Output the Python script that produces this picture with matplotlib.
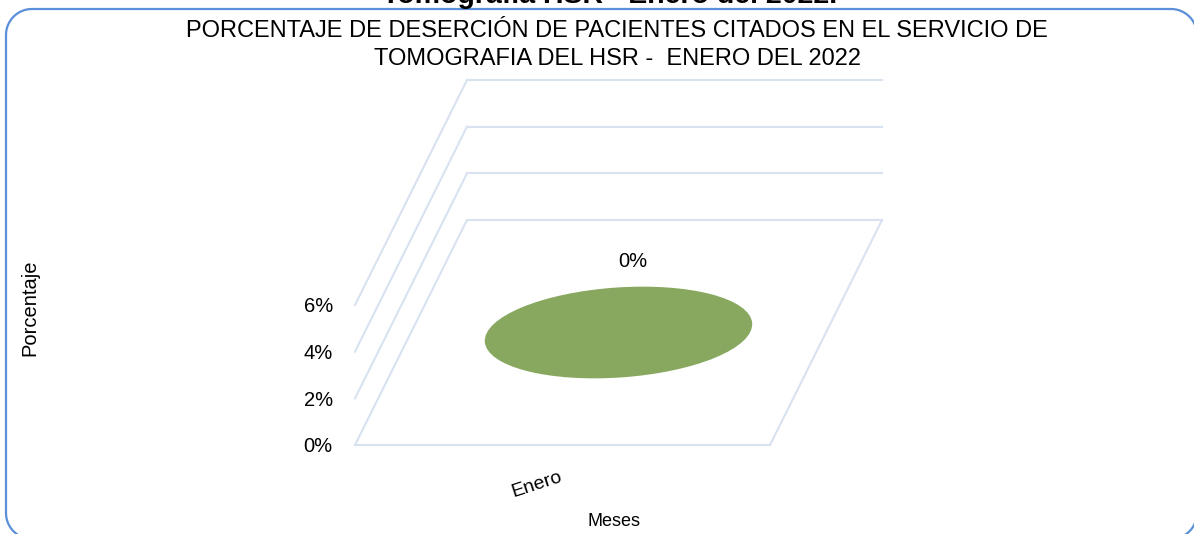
import numpy as np
import matplotlib
matplotlib.use('Agg')
import matplotlib.pyplot as plt
from matplotlib.patches import Ellipse, PathPatch
from matplotlib.path import Path
from matplotlib.lines import Line2D
import matplotlib.transforms as mtransforms

# ---------------- data ----------------
categories = ['Enero']
values = [0.0]
data_labels = ['0%']
y_ticks = [0.0, 0.02, 0.04, 0.06]
y_tick_labels = ['0%', '2%', '4%', '6%']
title_lines = ['PORCENTAJE DE DESERCIÓN DE PACIENTES CITADOS EN EL SERVICIO DE',
               'TOMOGRAFIA DEL HSR -  ENERO DEL 2022']
top_title = 'Tomografía HSR - Enero del 2022.'
x_label = 'Meses'
y_label = 'Porcentaje'

# ---------------- style ----------------
plt.rcParams['font.family'] = ['Liberation Sans', 'DejaVu Sans']
W, H, DPI = 1194, 534, 100
GRID = '#d9e2f1'
BAR = '#88a860'
BORDER = '#5b8fd9'
DX, DY = 112, 225          # pseudo-3D depth offset (pixels)
IDT = mtransforms.IdentityTransform()

fig = plt.figure(figsize=(W / DPI, H / DPI), dpi=DPI)
fig.patch.set_facecolor('white')

# rounded chart border (right side and bottom run past the image edges)
L, T, R, B, RAD = 6, 9, 1197, 539, 26


def arc(cx, cy, a0, a1, n=24):
    a = np.radians(np.linspace(a0, a1, n))
    return np.column_stack([cx + RAD * np.cos(a), cy - RAD * np.sin(a)])


pts = np.vstack([
    arc(R - RAD, T + RAD, 0, 90),      # top-right
    arc(L + RAD, T + RAD, 90, 180),    # top-left
    arc(L + RAD, B - RAD, 180, 270),   # bottom-left
    arc(R - RAD, B - RAD, 270, 360),   # bottom-right
])
pts[:, 1] = H - pts[:, 1]
fig.add_artist(PathPatch(Path(pts), transform=IDT, fill=False,
                         edgecolor=BORDER, lw=1.6))

# front plane axes
ax = fig.add_axes([355 / W, (H - 445) / H, 415 / W, 140 / H])
ax.set_xlim(0, len(categories))
ax.set_ylim(0, max(y_ticks))
ax.set_yticks(y_ticks)
ax.set_yticklabels(y_tick_labels, fontsize=14.5)
ax.tick_params(axis='y', length=0, pad=16)
ax.set_xticks([])
for s in ax.spines.values():
    s.set_visible(False)
ax.patch.set_visible(False)


def proj(x, v, d):
    px, py = ax.transData.transform((x, v))
    return px + d * DX, py + d * DY


def seg(p0, p1):
    fig.add_artist(Line2D([p0[0], p1[0]], [p0[1], p1[1]], transform=IDT,
                          color=GRID, lw=1.5, clip_on=False, zorder=1))


xmax = len(categories)
# floor
seg(proj(0, 0, 0), proj(xmax, 0, 0))
seg(proj(xmax, 0, 0), proj(xmax, 0, 1))
# walls
for v in y_ticks:
    seg(proj(0, v, 0), proj(0, v, 1))
    seg(proj(0, v, 1), proj(xmax, v, 1))

# cylinders (value 0 -> flat disk) and labels
for i, (cat, val, lab) in enumerate(zip(categories, values, data_labels)):
    cx, cy = proj(i + 0.5, val, 0.5)
    fig.add_artist(Ellipse((cx, cy), 268, 90, angle=4, transform=IDT,
                           facecolor=BAR, edgecolor='none', zorder=3))
    ax.annotate(lab, xy=(cx, cy), xycoords=IDT, xytext=(14, 71),
                textcoords='offset pixels', ha='center', va='center',
                fontsize=14.5, annotation_clip=False)
    ax.annotate(cat, xy=(i + 0.5, 0), xycoords='data', xytext=(-26, -40),
                textcoords='offset pixels', ha='center', va='center',
                rotation=18, fontsize=14, annotation_clip=False)

# titles
for line, ycen in zip(title_lines, [31, 59]):
    fig.text(617 / W, (H - ycen) / H, line, ha='center', va='center',
             fontsize=17)
fig.text(610 / W, (H - 3) / H, top_title, ha='center', va='baseline',
         fontsize=20.5, fontweight='bold')
fig.text(614 / W, (H - 522) / H, x_label, ha='center', va='center', fontsize=13)
fig.text(30 / W, (H - 308) / H, y_label, ha='center', va='center',
         rotation=90, fontsize=14.5)

fig.savefig('out.png', dpi=DPI)
